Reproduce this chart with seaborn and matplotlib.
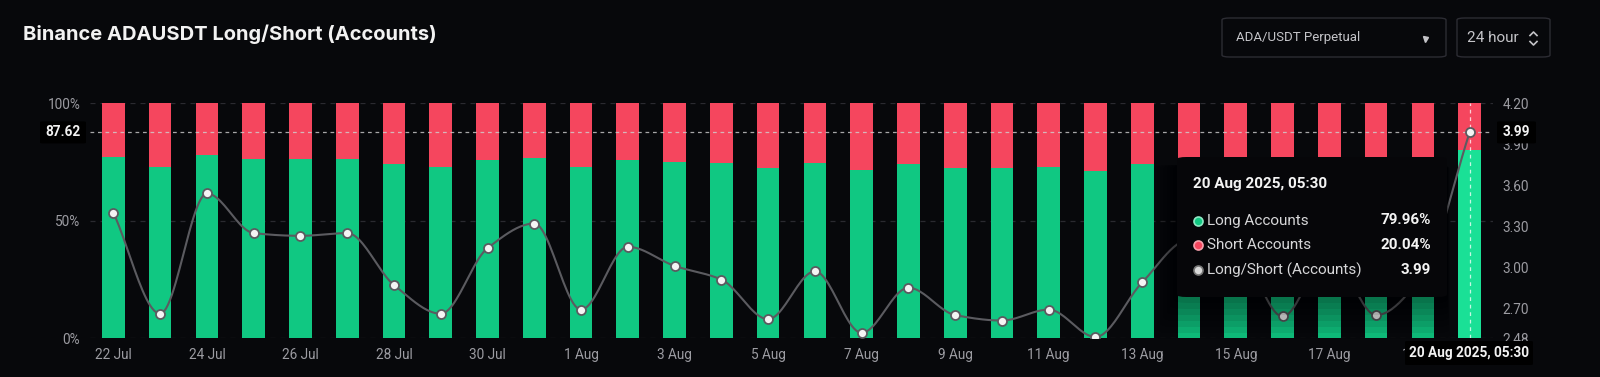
import numpy as np
import pandas as pd
import matplotlib
matplotlib.use("Agg")
import matplotlib.pyplot as plt
import seaborn as sns
from matplotlib.patches import FancyBboxPatch
from matplotlib.lines import Line2D

# ---------------- data ----------------
dates = pd.date_range("2025-07-22", periods=30, freq="D")
date_labels = [f"{d.day} {d.strftime('%b')}" for d in dates]
long_pct = [77.3, 72.7, 78.0, 76.5, 76.4, 76.5, 74.1, 72.7, 75.8, 76.9,
            72.9, 75.9, 75.1, 74.4, 72.4, 74.8, 71.6, 74.0, 72.6, 72.3,
            72.9, 71.3, 74.3, 76.2, 75.9, 72.5, 75.6, 72.6, 74.7, 79.96]
short_pct = [22.7, 27.3, 22.0, 23.5, 23.6, 23.5, 25.9, 27.3, 24.2, 23.1,
             27.1, 24.1, 24.9, 25.6, 27.6, 25.2, 28.4, 26.0, 27.4, 27.7,
             27.1, 28.7, 25.7, 23.8, 24.1, 27.5, 24.4, 27.4, 25.3, 20.04]
ratio = [3.40, 2.66, 3.54, 3.25, 3.23, 3.25, 2.87, 2.66, 3.14, 3.32,
         2.69, 3.15, 3.01, 2.91, 2.62, 2.97, 2.52, 2.85, 2.65, 2.61,
         2.69, 2.49, 2.89, 3.20, 3.15, 2.64, 3.10, 2.65, 2.95, 3.987]
left_ticks = [0, 50, 100]
right_ticks = [2.48, 2.70, 3.00, 3.30, 3.60, 3.90, 4.20]
hover_label = "20 Aug 2025, 05:30"

# ---------------- style ----------------
BG = "#07080b"
GREEN = "#10c882"
GREEN_HI = "#1ae096"
RED = "#f5465e"
TICK = "#9c9ca2"
W, H = 1600, 377

plt.rcParams["font.family"] = ["Roboto", "DejaVu Sans"]

fig = plt.figure(figsize=(W / 100, H / 100), dpi=100, facecolor=BG)


def fx(px):
    return px / W


def fy(py):
    return 1 - py / H


ax_l, ax_r, ax_t, ax_b = 90, 1493, 103.3, 338.3
ax = fig.add_axes([fx(ax_l), fy(ax_b), fx(ax_r - ax_l), (ax_b - ax_t) / H])
ax.set_facecolor(BG)

df = pd.DataFrame({"date": date_labels, "long": long_pct, "short": short_pct})
df["total"] = df["long"] + df["short"]

sns.barplot(data=df, x="date", y="total", color=RED, width=0.485,
            saturation=1, ax=ax, zorder=2)
sns.barplot(data=df, x="date", y="long", color=GREEN, width=0.485,
            saturation=1, ax=ax, zorder=3)
n = len(df)
ax.patches[2 * n - 1].set_facecolor(GREEN_HI)
for p in ax.patches:
    p.set_edgecolor("none")

ax.set_xlim(-0.5, n - 0.5)
ax.set_ylim(0, 100)
ax.set_yticks(left_ticks)
ax.set_yticklabels([f"{v}%" for v in left_ticks])
xt = list(range(0, n - 1, 2))
ax.set_xticks(xt)
ax.set_xticklabels([date_labels[i] for i in xt])
ax.set_xlabel("")
ax.set_ylabel("")
ax.tick_params(axis="both", length=0, colors=TICK, labelsize=9.8)
ax.tick_params(axis="y", pad=7)
ax.tick_params(axis="x", pad=7)
for s in ax.spines.values():
    s.set_visible(False)
for v in left_ticks:
    ax.axhline(v, color="#2a2a30", lw=0.9, ls=(0, (4, 4)), zorder=1)

# vertical crosshair on hovered bar
ax.axvline(n - 1, color="#ffffff", lw=0.9, ls=(0, (3, 3)), alpha=0.75, zorder=4)

# ---------------- ratio line ----------------
ax2 = ax.twinx()
ax2.set_ylim(right_ticks[0], right_ticks[-1])


def monotone_curve(x, y, k=24):
    x = np.asarray(x, float)
    y = np.asarray(y, float)
    h = np.diff(x)
    d = np.diff(y) / h
    m = np.zeros_like(y)
    m[0], m[-1] = d[0], d[-1]
    for i in range(1, len(y) - 1):
        if d[i - 1] * d[i] <= 0:
            m[i] = 0
        else:
            w1 = 2 * h[i] + h[i - 1]
            w2 = h[i] + 2 * h[i - 1]
            m[i] = (w1 + w2) / (w1 / d[i - 1] + w2 / d[i])
    xs, ys = [], []
    for i in range(len(x) - 1):
        t = np.linspace(0, 1, k, endpoint=False)
        h00 = 2 * t**3 - 3 * t**2 + 1
        h10 = t**3 - 2 * t**2 + t
        h01 = -2 * t**3 + 3 * t**2
        h11 = t**3 - t**2
        xs.append(x[i] + t * h[i])
        ys.append(h00 * y[i] + h10 * h[i] * m[i] + h01 * y[i + 1] + h11 * h[i] * m[i + 1])
    xs.append([x[-1]])
    ys.append([y[-1]])
    return np.concatenate(xs), np.concatenate(ys)


xpos = np.arange(n)
cx, cy = monotone_curve(xpos, ratio)
sns.lineplot(x=cx, y=cy, sort=False, ax=ax2, color="#5b5b60", linewidth=1.5, zorder=4)
sns.scatterplot(x=xpos, y=ratio, ax=ax2, s=42, color="#f4f4f4",
                edgecolor="#5b5b60", linewidth=1.3, zorder=5)
ax2.set_xlim(-0.5, n - 0.5)
ax2.set_yticks(right_ticks)
ax2.set_yticklabels([f"{v:.2f}" for v in right_ticks])
ax2.tick_params(axis="y", length=0, colors=TICK, labelsize=9.8, pad=7)
ax2.set_ylabel("")
for s in ax2.spines.values():
    s.set_visible(False)
ax2.axhline(ratio[-1], color="#d0d0d0", lw=0.9, ls=(0, (3, 3)), alpha=0.8, zorder=3)

# left-axis value of the crosshair
lo, hi = right_ticks[0], right_ticks[-1]
cross_left = (ratio[-1] - lo) / (hi - lo) * 100
cross_py = ax_b - (ratio[-1] - lo) / (hi - lo) * (ax_b - ax_t)


def label_box(x0, x1, y0, y1, text, size=9.8):
    fig.add_artist(FancyBboxPatch((fx(x0), fy(y1)), fx(x1 - x0), (y1 - y0) / H,
                                  boxstyle="round,pad=0,rounding_size=0.002",
                                  transform=fig.transFigure, facecolor="#000000",
                                  edgecolor="none", zorder=6))
    fig.text(fx((x0 + x1) / 2), fy((y0 + y1) / 2), text, ha="center", va="center",
             color="#f2f2f2", fontsize=size, fontweight="bold", zorder=7)


label_box(40, 86, cross_py - 11, cross_py + 11, f"{cross_left:.2f}")
label_box(1497, 1536, cross_py - 11, cross_py + 11, f"{ratio[-1]:.2f}")
label_box(1405, 1533, 341, 365, hover_label)

# ---------------- tooltip ----------------
tx0, tx1, ty0, ty1 = 1177, 1447, 157, 297
for g in range(42, 0, -6):
    fig.add_artist(FancyBboxPatch((fx(tx0 - g * 0.55), fy(ty1 + g)),
                                  fx(tx1 - tx0 + 1.1 * g * 0.55),
                                  (ty1 - ty0 - 8 + g) / H,
                                  boxstyle="round,pad=0,rounding_size=0.01",
                                  transform=fig.transFigure, facecolor="#000000",
                                  edgecolor="none", alpha=0.07, zorder=5))
fig.add_artist(FancyBboxPatch((fx(tx0), fy(ty1)), fx(tx1 - tx0), (ty1 - ty0) / H,
                              boxstyle="round,pad=0,rounding_size=0.006",
                              transform=fig.transFigure, facecolor="#060609",
                              edgecolor="none", zorder=6))
fig.text(fx(1193), fy(184), hover_label, ha="left", va="center", color="#f4f4f4",
         fontsize=11, fontweight="bold", zorder=7)
rows = [("Long Accounts", f"{long_pct[-1]:.2f}%", GREEN, "#8fe8c4"),
        ("Short Accounts", f"{short_pct[-1]:.2f}%", RED, "#f7a0ac"),
        ("Long/Short (Accounts)", f"{ratio[-1]:.2f}", "#d8d8d8", "#777777")]
for (lab, val, fc, ec), py in zip(rows, [220.5, 245.3, 270]):
    fig.add_artist(Line2D([fx(1198)], [fy(py)], marker="o", markersize=6.5,
                          markerfacecolor=fc, markeredgecolor=ec, markeredgewidth=1.2,
                          transform=fig.transFigure, zorder=7))
    fig.text(fx(1207), fy(py), lab, ha="left", va="center", color="#d6d6d8",
             fontsize=11, zorder=7)
    fig.text(fx(1431), fy(py), val, ha="right", va="center", color="#f4f4f4",
             fontsize=11, fontweight="bold", zorder=7)

# ---------------- header ----------------
fig.text(fx(23), fy(34), "Binance ADAUSDT Long/Short (Accounts)", ha="left", va="center",
         color="#f2f2f2", fontsize=14.5, fontweight="bold", family=["Inter", "DejaVu Sans"])

fig.add_artist(FancyBboxPatch((fx(1222), fy(57)), fx(224), 39 / H,
                              boxstyle="round,pad=0,rounding_size=0.005",
                              transform=fig.transFigure, facecolor="none",
                              edgecolor="#2c2c33", lw=1))
fig.text(fx(1236), fy(38), "ADA/USDT Perpetual", ha="left", va="center",
         color="#c4c4c8", fontsize=9.5)
fig.add_artist(Line2D([fx(1425)], [fy(39)], marker="v", markersize=3.6,
                      color="#c4c4c8", transform=fig.transFigure))
fig.add_artist(FancyBboxPatch((fx(1457), fy(57)), fx(93), 39 / H,
                              boxstyle="round,pad=0,rounding_size=0.005",
                              transform=fig.transFigure, facecolor="none",
                              edgecolor="#2c2c33", lw=1))
fig.text(fx(1467), fy(38), "24 hour", ha="left", va="center",
         color="#c4c4c8", fontsize=11)
fig.add_artist(Line2D([fx(1530), fx(1533.5), fx(1537)], [fy(35.5), fy(32), fy(35.5)],
                      color="#c4c4c8", lw=1.2, transform=fig.transFigure))
fig.add_artist(Line2D([fx(1530), fx(1533.5), fx(1537)], [fy(41.5), fy(45), fy(41.5)],
                      color="#c4c4c8", lw=1.2, transform=fig.transFigure))

fig.savefig("out.png", dpi=100, facecolor=BG)
